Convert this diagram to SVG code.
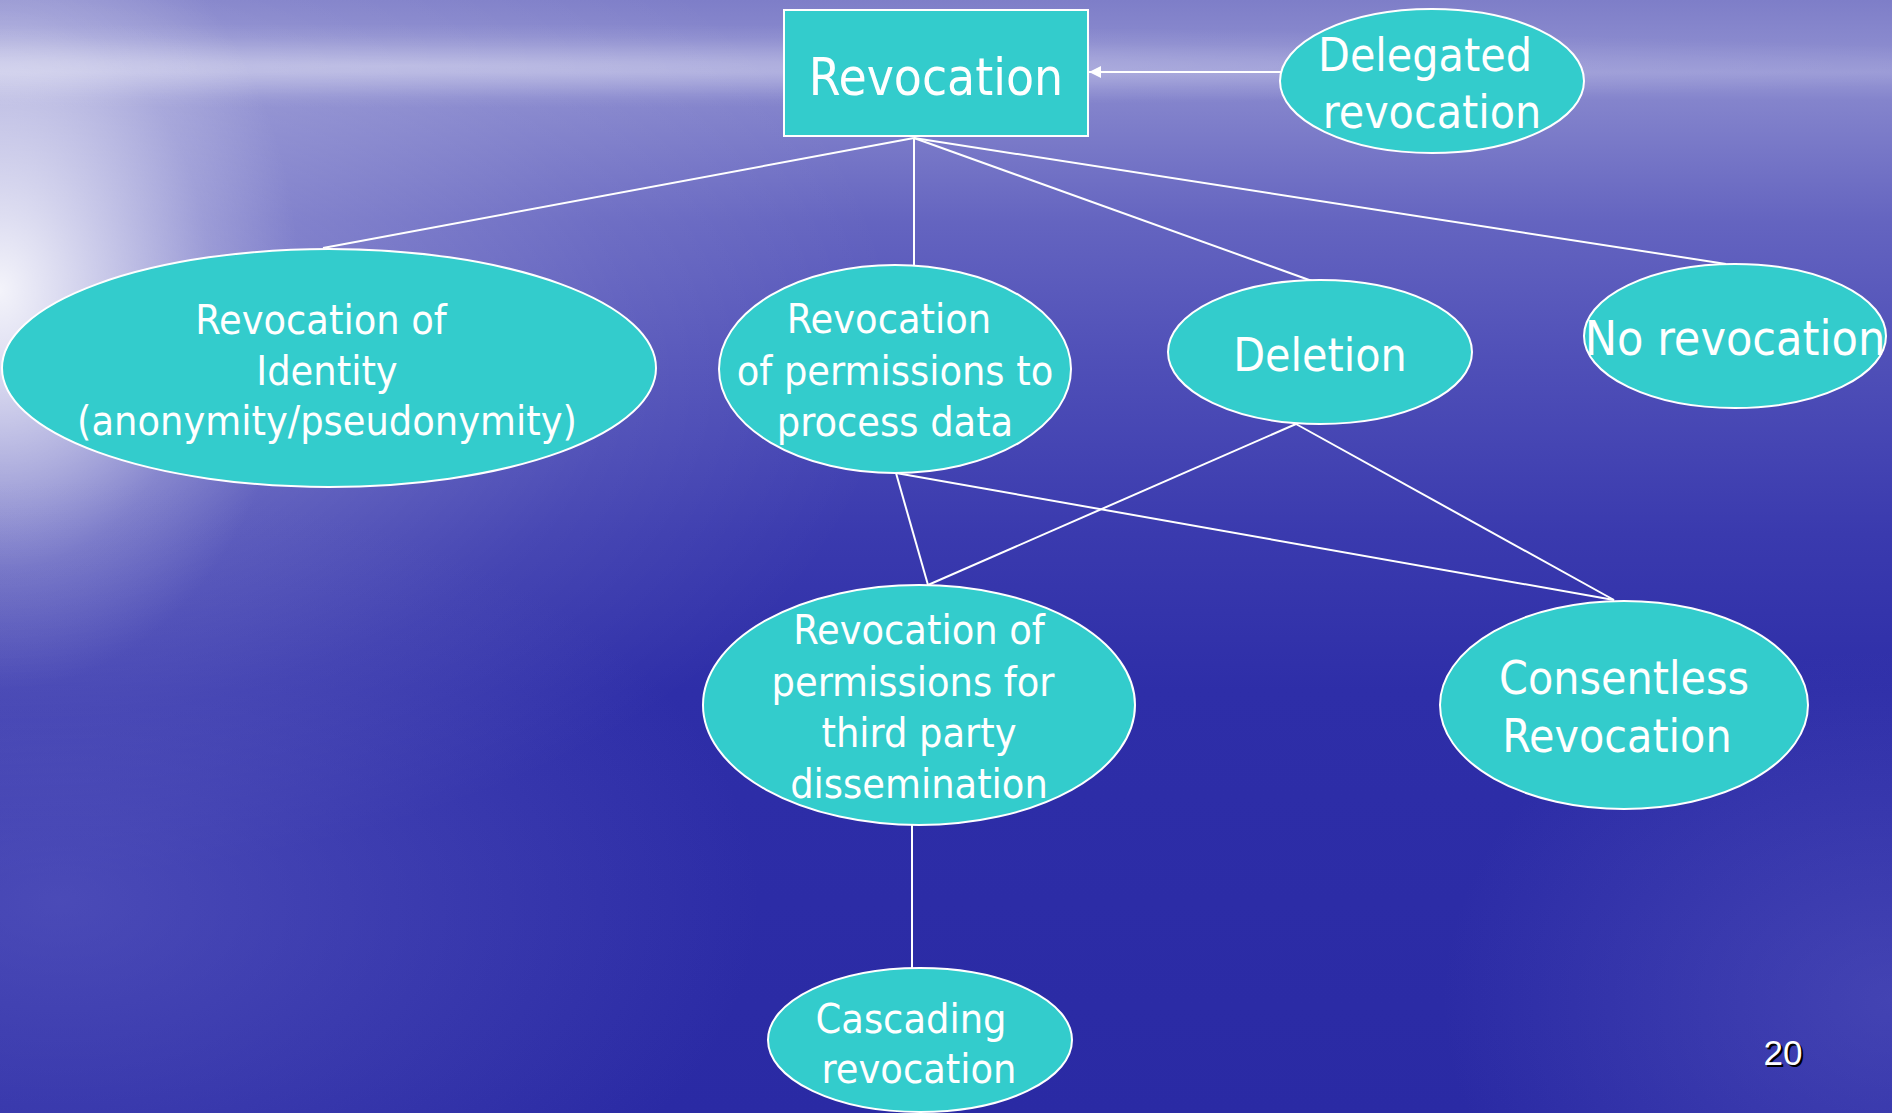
<svg xmlns="http://www.w3.org/2000/svg" width="1892" height="1113" viewBox="0 0 1892 1113">
<defs>
<linearGradient id="sea" x1="0" y1="0" x2="0" y2="1113" gradientUnits="userSpaceOnUse">
<stop offset="0" stop-color="#7e7ec8"/>
<stop offset="0.04" stop-color="#8a8ace"/>
<stop offset="0.065" stop-color="#9a9ad6"/>
<stop offset="0.09" stop-color="#8484cc"/>
<stop offset="0.2" stop-color="#6464c0"/>
<stop offset="0.32" stop-color="#5050b8"/>
<stop offset="0.48" stop-color="#3a3aae"/>
<stop offset="0.62" stop-color="#2e2ea8"/>
<stop offset="1" stop-color="#2a2aa4"/>
</linearGradient>
<radialGradient id="soft" cx="0.5" cy="0.5" r="0.5">
<stop offset="0" stop-color="#ffffff" stop-opacity="1"/>
<stop offset="0.35" stop-color="#ffffff" stop-opacity="0.6"/>
<stop offset="0.7" stop-color="#ffffff" stop-opacity="0.2"/>
<stop offset="1" stop-color="#ffffff" stop-opacity="0"/>
</radialGradient>
<radialGradient id="softblue" cx="0.5" cy="0.5" r="0.5">
<stop offset="0" stop-color="#7070cc" stop-opacity="1"/>
<stop offset="1" stop-color="#7070cc" stop-opacity="0"/>
</radialGradient>
<marker id="arrow" viewBox="0 0 10 10" refX="10" refY="5" markerWidth="6" markerHeight="6" markerUnits="strokeWidth" orient="auto">
<path d="M0,0 L10,5 L0,10 Z" fill="#ffffff"/>
</marker>
<style>
.node { fill: #33cccc; stroke: #ffffff; stroke-width: 2; }
.conn { stroke: #ffffff; stroke-width: 2; fill: none; }
.t { fill: #ffffff; font-family: 'DejaVu Sans Condensed', 'DejaVu Sans', sans-serif; font-stretch: condensed; text-anchor: middle; }
.s41 { font-size: 41px; }
.s46 { font-size: 46px; }
.s48 { font-size: 48px; }
.s51 { font-size: 51px; }
.pg { font-family: 'Liberation Sans', Arial, sans-serif; font-size: 35px; text-anchor: middle; }
</style>
</defs>

<g id="background">
<rect x="0" y="0" width="1892" height="1113" fill="url(#sea)"/>
<ellipse cx="0" cy="340" rx="900" ry="540" fill="url(#soft)" opacity="0.35"/>
<ellipse cx="0" cy="290" rx="300" ry="400" fill="url(#soft)" opacity="0.9"/>
<ellipse cx="60" cy="900" rx="700" ry="420" fill="url(#softblue)" opacity="0.45"/>
<ellipse cx="1892" cy="1000" rx="450" ry="350" fill="url(#softblue)" opacity="0.35"/>
<ellipse cx="400" cy="66" rx="1700" ry="42" fill="url(#soft)" opacity="0.32"/>
</g>

<g id="connectors">
<line class="conn" x1="1281" y1="72" x2="1089" y2="72" marker-end="url(#arrow)"/>
<line class="conn" x1="914" y1="138" x2="323" y2="248"/>
<line class="conn" x1="914" y1="138" x2="914" y2="265"/>
<line class="conn" x1="914" y1="138" x2="1312" y2="281"/>
<line class="conn" x1="914" y1="138" x2="1726" y2="264"/>
<line class="conn" x1="896" y1="473" x2="928" y2="585"/>
<line class="conn" x1="896" y1="473" x2="1614" y2="600"/>
<line class="conn" x1="1296" y1="424" x2="928" y2="585"/>
<line class="conn" x1="1296" y1="424" x2="1614" y2="600"/>
<line class="conn" x1="912" y1="825" x2="912" y2="968"/>
</g>

<g id="node-revocation">
<rect class="node" x="784" y="10" width="304" height="126"/>
<text class="t s51" x="936" y="95">Revocation</text>
</g>

<g id="node-delegated">
<ellipse class="node" cx="1432" cy="81" rx="152" ry="72"/>
<text class="t s46" x="1425" y="71">Delegated</text>
<text class="t s46" x="1432" y="128">revocation</text>
</g>

<g id="node-identity">
<ellipse class="node" cx="329" cy="368" rx="327" ry="119"/>
<text class="t s41" x="321" y="334">Revocation of</text>
<text class="t s41" x="327" y="385">Identity</text>
<text class="t s41" x="327" y="435">(anonymity/pseudonymity)</text>
</g>

<g id="node-process">
<ellipse class="node" cx="895" cy="369" rx="176" ry="104"/>
<text class="t s41" x="889" y="333">Revocation</text>
<text class="t s41" x="895" y="385">of permissions to</text>
<text class="t s41" x="895" y="436">process data</text>
</g>

<g id="node-deletion">
<ellipse class="node" cx="1320" cy="352" rx="152" ry="72"/>
<text class="t s46" x="1320" y="371">Deletion</text>
</g>

<g id="node-norevocation">
<ellipse class="node" cx="1735" cy="336" rx="151" ry="72"/>
<text class="t s48" x="1735" y="355">No revocation</text>
</g>

<g id="node-thirdparty">
<ellipse class="node" cx="919" cy="705" rx="216" ry="120"/>
<text class="t s41" x="919" y="644">Revocation of</text>
<text class="t s41" x="913" y="696">permissions for</text>
<text class="t s41" x="919" y="747">third party</text>
<text class="t s41" x="919" y="798">dissemination</text>
</g>

<g id="node-consentless">
<ellipse class="node" cx="1624" cy="705" rx="184" ry="104"/>
<text class="t s46" x="1624" y="694">Consentless</text>
<text class="t s46" x="1617" y="752">Revocation</text>
</g>

<g id="node-cascading">
<ellipse class="node" cx="920" cy="1040" rx="152" ry="72"/>
<text class="t s41" x="911" y="1033">Cascading</text>
<text class="t s41" x="919" y="1083">revocation</text>
</g>

<g id="page-number">
<text class="pg" x="1785" y="1067" fill="#000000">20</text>
<text class="pg" x="1783" y="1065" fill="#ffffff">20</text>
</g>
</svg>
